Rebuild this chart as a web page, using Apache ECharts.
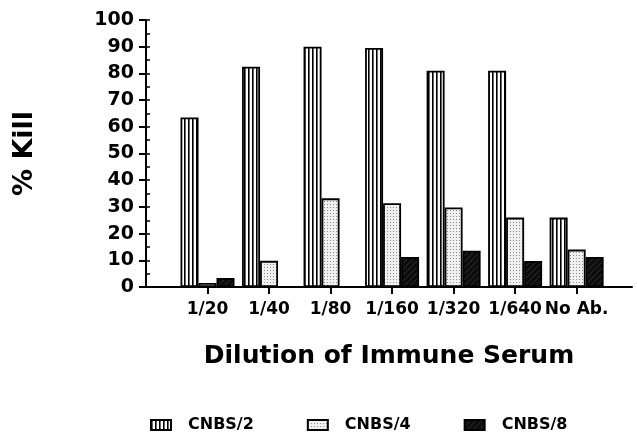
<!DOCTYPE html>
<html>
<head>
<meta charset="utf-8">
<script src="https://cdn.jsdelivr.net/npm/echarts@6/dist/echarts.min.js"></script>
<style>
  html, body { margin: 0; padding: 0; background: #fff; }
  #chart { width: 637px; height: 432px; }
</style>
</head>
<body>
<div id="chart"></div>
<script>
const categories = ['1/20', '1/40', '1/80', '1/160', '1/320', '1/640', 'No Ab.']
const cnbs2 = [63.5, 82.5, 90, 89.5, 81, 81, 26]
const cnbs4 = [1.5, 9.8, 33.2, 31.4, 29.8, 26, 14]
const cnbs8 = [3.4, null, null, 11.2, 13.6, 9.7, 11.2]
const yTicks = [0, 10, 20, 30, 40, 50, 60, 70, 80, 90, 100]

const FONT = 'DejaVu Sans'

// little canvas patterns for the hatched fills
function pattern(w, h, draw) {
  const c = document.createElement('canvas')
  c.width = w
  c.height = h
  draw(c.getContext('2d'))
  return { image: c, repeat: 'repeat' }
}
const stripes = pattern(4, 4, ctx => {
  ctx.fillStyle = '#fff'
  ctx.fillRect(0, 0, 4, 4)
  ctx.fillStyle = '#000'
  ctx.fillRect(0, 0, 1.6, 4)
})
const dots = pattern(3, 3, ctx => {
  ctx.fillStyle = '#f0f0f0'
  ctx.fillRect(0, 0, 3, 3)
  ctx.fillStyle = '#8a8a8a'
  ctx.fillRect(0, 0, 1, 1)
})
const dark = pattern(6, 6, ctx => {
  ctx.fillStyle = '#0d0d0d'
  ctx.fillRect(0, 0, 6, 6)
  ctx.strokeStyle = '#2c2c2c'
  ctx.lineWidth = 1
  ctx.beginPath()
  ctx.moveTo(0, 6)
  ctx.lineTo(6, 0)
  ctx.stroke()
})

const toPoints = arr => arr.map((v, i) => (v == null ? null : [i + 1, v])).filter(p => p)
const positions = categories.map((c, i) => i + 1)

const chart = echarts.init(document.getElementById('chart'))
const barStyle = fill => ({ color: fill, borderColor: '#000', borderWidth: 1.8 })

chart.setOption({
  animation: false,
  grid: { left: 146, right: 5, top: 20, bottom: 145 },
  legend: {
    top: 412,
    left: 145,
    icon: 'rect',
    itemWidth: 20,
    itemHeight: 10,
    itemGap: 53,
    textStyle: { fontFamily: FONT, fontWeight: 'bold', fontSize: 16, color: '#000', padding: [0, 0, 0, 12] },
    data: ['CNBS/2', 'CNBS/4', 'CNBS/8'],
  },
  xAxis: {
    type: 'value',
    min: 0,
    max: 7.9,
    interval: 1,
    splitLine: { show: false },
    axisLine: { show: true, lineStyle: { color: '#000', width: 2 } },
    axisTick: { show: true, length: 7, customValues: positions, lineStyle: { color: '#000', width: 2 } },
    axisLabel: {
      customValues: positions,
      hideOverlap: false,
      margin: 14,
      fontFamily: FONT,
      fontWeight: 'bold',
      fontSize: 17,
      color: '#000',
      formatter: v => categories[v - 1] || '',
    },
    name: 'Dilution of Immune Serum',
    nameLocation: 'middle',
    nameGap: 57,
    nameTextStyle: { fontFamily: FONT, fontWeight: 'bold', fontSize: 25, color: '#000' },
  },
  yAxis: [
    {
      type: 'value',
      min: yTicks[0],
      max: yTicks[yTicks.length - 1],
      interval: 10,
      splitLine: { show: false },
      axisLine: { show: true, lineStyle: { color: '#000', width: 2 } },
      axisTick: { show: true, length: 7, lineStyle: { color: '#000', width: 2 } },
      axisLabel: { margin: 12, fontFamily: FONT, fontWeight: 'bold', fontSize: 19, color: '#000' },
      name: '% Kill',
      nameLocation: 'middle',
      nameGap: 108,
      nameTextStyle: { fontFamily: FONT, fontWeight: 'bold', fontSize: 27, color: '#000' },
    },
    {
      // short inside ticks every 5
      type: 'value',
      position: 'left',
      min: 0,
      max: 100,
      interval: 5,
      splitLine: { show: false },
      axisLine: { show: false },
      axisLabel: { show: false },
      axisTick: { show: true, inside: true, length: 4, lineStyle: { color: '#000', width: 1.5 } },
    },
  ],
  series: [
    { name: 'CNBS/2', type: 'bar', data: toPoints(cnbs2), barWidth: 18, barGap: '0%', itemStyle: barStyle(stripes) },
    { name: 'CNBS/4', type: 'bar', data: toPoints(cnbs4), barWidth: 18, barGap: '0%', itemStyle: barStyle(dots) },
    { name: 'CNBS/8', type: 'bar', data: toPoints(cnbs8), barWidth: 18, barGap: '0%', itemStyle: barStyle(dark) },
  ],
})
</script>
</body>
</html>
